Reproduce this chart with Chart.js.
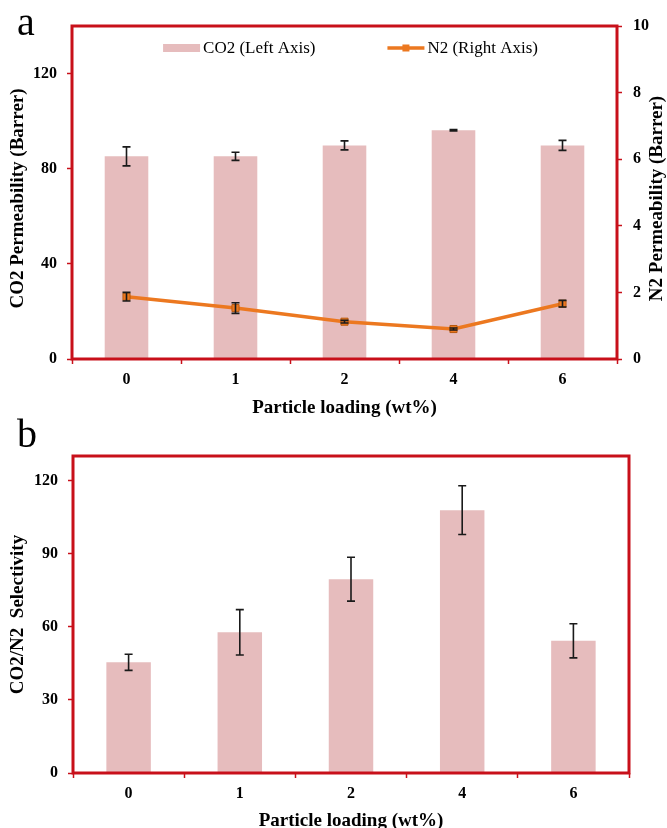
<!DOCTYPE html>
<html>
<head>
<meta charset="utf-8">
<script src="https://cdn.jsdelivr.net/npm/chart.js@4.4.0/dist/chart.umd.min.js"></script>
<style>
html,body{margin:0;padding:0;background:#fff;overflow:hidden;width:667px;height:828px;}
.wrap{position:absolute;left:0;width:667px;}
.panel{position:absolute;font-family:"Liberation Serif",serif;font-size:40px;line-height:1;color:#000;}
</style>
</head>
<body>
<div class="wrap" style="top:0;height:420px"><canvas id="chartA"></canvas></div>
<div class="wrap" style="top:415px;height:425px"><canvas id="chartB"></canvas></div>
<div class="panel" style="left:17px;top:2px">a</div>
<div class="panel" style="left:17px;top:414px">b</div>
<script>
// ---------- data ----------
const loadings = ['0', '1', '2', '4', '6'];
const co2Permeability = [85.2, 85.2, 89.8, 96.2, 89.8];
const co2PermeabilityErr = [4.0, 1.7, 1.9, 0.3, 2.1];
const n2Permeability = [1.87, 1.53, 1.12, 0.90, 1.66];
const n2PermeabilityErr = [0.13, 0.16, 0.04, 0.03, 0.10];
const selectivity = [45.4, 57.7, 79.5, 107.8, 54.2];
const selectivityErr = [3.3, 9.3, 9.0, 10.0, 7.0];
const co2AxisRange = [0, 140, 40];
const n2AxisRange = [0, 10, 2];
const selAxisRange = [0, 130, 30];

// ---------- styles ----------
const RED = '#c8101a';
const PINK = '#e6bcbd';
const ORANGE = '#ec7820';
const FONT = '"Liberation Serif", "Times New Roman", serif';

// error bars drawn from the scales + red frame round the plot area
const errorBarPlugin = {
  id: 'errbars',
  afterDatasetsDraw(chart, args, opts) {
    const ctx = chart.ctx;
    (opts.sets || []).forEach(s => {
      const meta = chart.getDatasetMeta(s.index);
      const ds = chart.data.datasets[s.index];
      const scale = chart.scales[meta.yAxisID];
      ctx.save();
      ctx.strokeStyle = '#1a1a1a';
      ctx.lineWidth = 1.6;
      meta.data.forEach((el, i) => {
        const v = ds.data[i], e = s.errors[i];
        const yTop = scale.getPixelForValue(v + e);
        const yBot = scale.getPixelForValue(v - e);
        const x = el.x, cw = 4;
        ctx.beginPath();
        ctx.moveTo(x, yTop); ctx.lineTo(x, yBot);
        ctx.moveTo(x - cw, yTop); ctx.lineTo(x + cw, yTop);
        ctx.moveTo(x - cw, yBot); ctx.lineTo(x + cw, yBot);
        ctx.stroke();
      });
      ctx.restore();
    });
  },
  afterDraw(chart) {
    const a = chart.chartArea, ctx = chart.ctx;
    ctx.save();
    ctx.strokeStyle = RED;
    ctx.lineWidth = 3;
    ctx.strokeRect(a.left, a.top, a.right - a.left, a.bottom - a.top);
    ctx.restore();
  }
};

// vertical axis titles reading bottom to top
const sideTitlePlugin = {
  id: 'stitles',
  afterDraw(chart, args, opts) {
    const a = chart.chartArea, ctx = chart.ctx;
    (opts.titles || []).forEach(t => {
      const s = chart.scales[t.scale];
      const x = t.side === 'right' ? s.right - 10 : s.left + 18;
      ctx.save();
      ctx.translate(x, (a.top + a.bottom) / 2 + (t.dy || 0));
      ctx.rotate(-Math.PI / 2);
      ctx.font = 'bold 19px ' + FONT;
      ctx.fillStyle = '#000';
      ctx.textAlign = 'center';
      ctx.textBaseline = 'middle';
      ctx.fillText(t.text, 0, 0);
      ctx.restore();
    });
  }
};

// one-row legend inside the top of the plot area
const insideLegendPlugin = {
  id: 'inlegend',
  afterDatasetsDraw(chart, args, opts) {
    const items = opts.items || [];
    if (!items.length) return;
    const ctx = chart.ctx, a = chart.chartArea;
    ctx.save();
    ctx.font = '17px ' + FONT;
    const sw = 37, gap = 3, sep = 72;
    const widths = items.map(it => ctx.measureText(it.text).width);
    const total = widths.reduce((s, w) => s + sw + gap + w, 0) + sep * (items.length - 1);
    let x = (a.left + a.right) / 2 - total / 2 + 6;
    const y = a.top + 22;
    items.forEach((it, i) => {
      const ds = chart.data.datasets[it.datasetIndex];
      if (it.kind === 'box') {
        ctx.fillStyle = ds.backgroundColor;
        ctx.fillRect(x, y - 4, sw, 8);
      } else {
        ctx.fillStyle = ds.borderColor;
        ctx.fillRect(x, y - 1.75, sw, 3.5);
        ctx.fillRect(x + sw / 2 - 3.5, y - 3.5, 7, 7);
      }
      ctx.fillStyle = '#000';
      ctx.textAlign = 'left';
      ctx.textBaseline = 'middle';
      ctx.fillText(it.text, x + sw + gap, y + 1);
      x += sw + gap + widths[i] + sep;
    });
    ctx.restore();
  }
};

function yAxis(range, width, titleText) {
  return {
    type: 'linear', position: 'left',
    min: range[0], max: range[1],
    ticks: { stepSize: range[2], includeBounds: false, padding: 10, color: '#000',
      font: { family: FONT, size: 16, weight: 'bold' } },
    grid: { display: true, drawOnChartArea: false, drawTicks: true, tickLength: 5, tickColor: RED, color: RED, tickWidth: 1.5 },
    border: { display: false },
    title: { display: !!titleText, text: titleText || '', color: '#000', padding: { top: 8, bottom: 0 },
      font: { family: FONT, size: 19, weight: 'bold' } },
    afterFit(s) { s.width = width; }
  };
}
function xAxis(height, padBottom) {
  return {
    type: 'category',
    ticks: { padding: 6, color: '#000', font: { family: FONT, size: 16, weight: 'bold' } },
    grid: { display: true, offset: true, drawOnChartArea: false, tickLength: 5, tickColor: RED, color: RED, tickWidth: 1.5 },
    border: { display: false },
    title: { display: true, text: 'Particle loading (wt%)', color: '#000', padding: { top: 0, bottom: padBottom },
      font: { family: FONT, size: 19, weight: 'bold' } },
    afterFit(s) { s.height = height; }
  };
}

Chart.defaults.font.family = FONT;

new Chart(document.getElementById('chartA'), {
  type: 'bar',
  data: {
    labels: loadings,
    datasets: [
      { type: 'line', label: 'N2 (Right Axis)', data: n2Permeability, yAxisID: 'y1', order: 0,
        borderColor: ORANGE, borderWidth: 3.5, backgroundColor: ORANGE,
        pointStyle: 'rect', pointRadius: 5, pointBorderColor: '#b85a10', pointBorderWidth: 1,
        pointBackgroundColor: ORANGE, tension: 0 },
      { type: 'bar', label: 'CO2 (Left Axis)', data: co2Permeability, yAxisID: 'y', order: 1,
        backgroundColor: PINK, borderWidth: 0, barPercentage: 0.4, categoryPercentage: 1 }
    ]
  },
  options: {
    responsive: true, maintainAspectRatio: false, animation: false,
    layout: { padding: { top: 26, left: 0, right: 0, bottom: 0 } },
    scales: {
      x: xAxis(61, 1),
      y: yAxis(co2AxisRange, 72, ''),
      y1: {
        type: 'linear', position: 'right',
        min: n2AxisRange[0], max: n2AxisRange[1],
        ticks: { stepSize: n2AxisRange[2], padding: 11, color: '#000',
          font: { family: FONT, size: 16, weight: 'bold' } },
        grid: { display: true, drawOnChartArea: false, tickLength: 5, tickColor: RED, color: RED, tickWidth: 1.5 },
        border: { display: false },
        afterFit(s) { s.width = 50; }
      }
    },
    plugins: {
      tooltip: { enabled: false },
      legend: { display: false },
      inlegend: { items: [
        { text: 'CO2 (Left Axis)', datasetIndex: 1, kind: 'box' },
        { text: 'N2 (Right Axis)', datasetIndex: 0, kind: 'line' }
      ] },
      errbars: { sets: [ { index: 1, errors: co2PermeabilityErr }, { index: 0, errors: n2PermeabilityErr } ] },
      stitles: { titles: [
        { scale: 'y', side: 'left', text: 'CO2 Permeability (Barrer)', dy: 6 },
        { scale: 'y1', side: 'right', text: 'N2 Permeability (Barrer)', dy: 6 }
      ] }
    }
  },
  plugins: [errorBarPlugin, sideTitlePlugin, insideLegendPlugin]
});

new Chart(document.getElementById('chartB'), {
  type: 'bar',
  data: {
    labels: loadings,
    datasets: [
      { label: 'CO2/N2 Selectivity', data: selectivity, backgroundColor: PINK, borderWidth: 0,
        barPercentage: 0.4, categoryPercentage: 1 }
    ]
  },
  options: {
    responsive: true, maintainAspectRatio: false, animation: false,
    layout: { padding: { top: 41, left: 0, right: 38, bottom: 0 } },
    scales: {
      x: xAxis(67, 8),
      y: yAxis(selAxisRange, 73, '')
    },
    plugins: {
      tooltip: { enabled: false },
      legend: { display: false },
      errbars: { sets: [ { index: 0, errors: selectivityErr } ] },
      stitles: { titles: [
        { scale: 'y', side: 'left', text: 'CO2/N2  Selectivity', dy: 0 }
      ] }
    }
  },
  plugins: [errorBarPlugin, sideTitlePlugin]
});
</script>
</body>
</html>
